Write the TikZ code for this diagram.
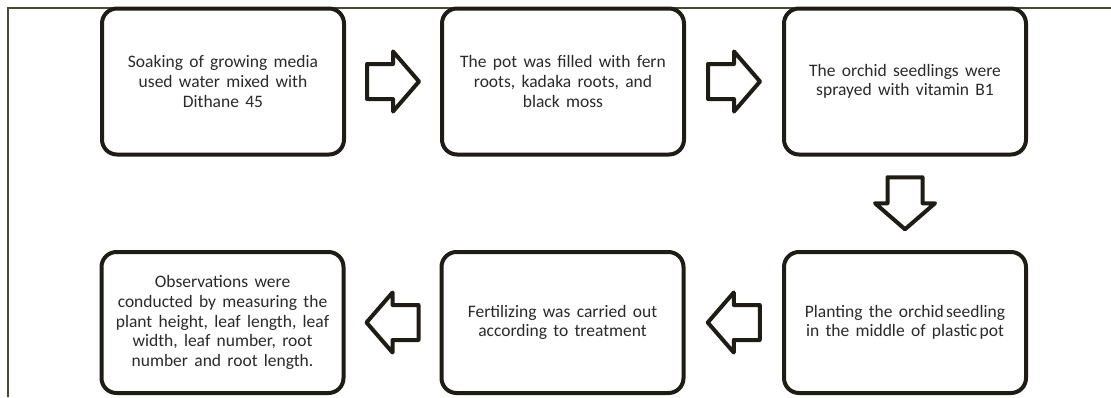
\documentclass[tikz,border=0pt]{standalone}
\usepackage{fontspec}
\setmainfont{Carlito}
\newfontfamily\boxfont{Carlito}[WordSpace={1.6,1,1}]
\usetikzlibrary{calc}
\definecolor{boxline}{HTML}{1E1C14}
\definecolor{txt}{HTML}{2A2A2A}
\definecolor{framecol}{HTML}{4A4832}
\begin{document}
\begin{tikzpicture}[x=1pt,y=-1pt,
  stepbox/.style={draw=boxline, line width=4pt, rounded corners=15pt, fill=white,
    minimum width=242pt, minimum height=146pt, inner sep=0pt, align=center,
    text=txt, font=\boxfont\fontsize{17.5}{19.6}\selectfont},
  lowbox/.style={stepbox, minimum height=141pt},
  arrowline/.style={draw=boxline, line width=4pt, line join=round, fill=white},
  barrow/.pic={\path[arrowline] (-26,-17.5) -- (0,-17.5) -- (0,-30) -- (26,0)
      -- (0,30) -- (0,17.5) -- (-26,17.5) -- cycle;}]
\useasboundingbox (0,0) rectangle (1111,397);
\fill[white] (0,0) rectangle (1111,397);
\draw[framecol, line width=1.6pt] (8,397) -- (8,8) -- (1111,8);

\node[stepbox] (s1) at (223,81.5) {Soaking of growing media\\used water mixed with\\Dithane 45};
\node[stepbox] (s2) at (563,81.5) {The pot was filled with fern\\roots, kadaka roots, and\\black moss};
\node[stepbox] (s3) at (905,81.5) {The orchid seedlings were\\sprayed with vitamin B1};
\node[lowbox] (s4) at (905,322.5) {Planting the orchid\hspace{-4pt} seedling\\in the middle of plastic\hspace{-4pt} pot};
\node[lowbox] (s5) at (562.5,322.5) {Fertilizing was carried out\\according to treatment};
\node[lowbox] (s6) at (222.5,322.5) {Observations were\\conducted by measuring the\\plant height, leaf length, leaf\\width, leaf number, root\\number and root length.};

\coordinate (m12) at ($(s1.east)!0.5!(s2.west)$);
\coordinate (m23) at ($(s2.east)!0.5!(s3.west)$);
\coordinate (m34) at ($(s3.south)!0.5!(s4.north)$);
\coordinate (m45) at ($(s4.west)!0.5!(s5.east)$);
\coordinate (m56) at ($(s5.west)!0.5!(s6.east)$);
\pic (a12) at (m12) {barrow};
\pic (a23) at (m23) {barrow};
\pic[rotate=-90] (a34) at (m34) {barrow};
\pic[rotate=180] (a45) at (m45) {barrow};
\pic[rotate=180] (a56) at (m56) {barrow};
\end{tikzpicture}
\end{document}
